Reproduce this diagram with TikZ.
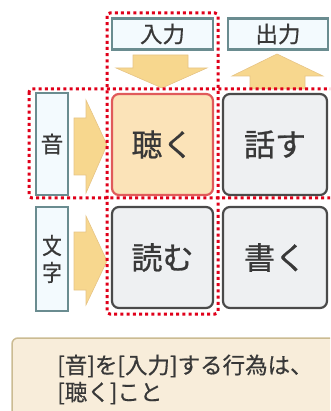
\documentclass[tikz,border=0pt]{standalone}
\usepackage{fontspec}
\setmainfont{Noto Sans CJK JP}
\newfontfamily\medfont{Noto Sans CJK JP}[FakeBold=0.9]
\newfontfamily\semifont{Noto Sans CJK JP}[FakeBold=0.5]
\definecolor{txt}{HTML}{383838}
\definecolor{hlfill}{HTML}{FBE3B8}
\definecolor{hldraw}{HTML}{E05A5A}
\definecolor{gfill}{HTML}{EEF0F2}
\definecolor{gdraw}{HTML}{4A4A4A}
\definecolor{lfill}{HTML}{F3FAFE}
\definecolor{ldraw}{HTML}{6A8C90}
\definecolor{afill}{HTML}{F7D78E}
\definecolor{adraw}{HTML}{E6C486}
\definecolor{nfill}{HTML}{F8EDDA}
\definecolor{ndraw}{HTML}{CBBB92}
\definecolor{dotred}{HTML}{E0001A}
\tikzset{
  cell/.style={draw=gdraw, fill=gfill, line width=2.2pt, rounded corners=7pt,
    minimum width=101pt, minimum height=101pt, inner sep=0pt, text=txt,
    font=\medfont\fontsize{31}{35}\selectfont},
  hlcell/.style={cell, draw=hldraw, fill=hlfill, font=\semifont\fontsize{31}{35}\selectfont},
  lab/.style={draw=ldraw, fill=lfill, line width=2.2pt, inner sep=0pt, text=txt,
    font=\semifont\fontsize{22.5}{26}\selectfont},
  arr/.style={fill=afill, draw=adraw, line width=0.6pt},
  dotbox/.style={draw=dotred, line width=3pt, dash pattern=on 3pt off 3.2pt, rounded corners=3pt},
}
\begin{document}
\begin{tikzpicture}[x=1pt,y=-1pt]
\useasboundingbox (0,0) rectangle (330,411);
\clip (0,0) rectangle (330,411);
% note box
\node[draw=ndraw, fill=nfill, line width=1.5pt, rounded corners=6pt, minimum width=330pt, minimum height=90pt, inner sep=0pt] (note) at (177,383) {};
\node[anchor=west, align=left, text=txt, font=\semifont\fontsize{22.5}{27}\selectfont, inner sep=0pt] (notetext) at (57,379.5) {[音]を[入力]する行為は、\\{}[聴く]こと};
% column labels
\node[lab, minimum width=101pt, minimum height=31pt] (in) at (162.5,34) {入力};
\node[lab, minimum width=100pt, minimum height=31pt] (out) at (278,34) {出力};
% row labels
\node[lab, minimum width=32pt, minimum height=102pt] (sound) at (52,144) {音};
\node[lab, minimum width=32pt, minimum height=104pt, align=center, font=\semifont\fontsize{23}{27}\selectfont] (chars) at (52,259) {\scalebox{0.85}[1]{文}\\\scalebox{0.85}[1]{字}};
% cells
\node[hlcell] (listen) at (162.5,144.5) {聴く};
\node[cell, minimum width=104pt] (speak) at (275,144.5) {話す};
\node[cell, minimum height=101pt] (read) at (162.5,257.5) {読む};
\node[cell, minimum width=104pt, minimum height=101pt] (write) at (275,257.5) {書く};
% arrows
\draw[arr] (133,55) -- (188,55) -- (188,68) -- (207,68) -- (162,88) -- (116,68) -- (133,68) -- cycle;
\draw[arr] (250,89) -- (250,76) -- (232,76) -- (277,54) -- (323,76) -- (305,76) -- (305,89) -- cycle;
\draw[arr] (74,118) -- (86,118) -- (86,100) -- (107,145) -- (86,193) -- (86,175) -- (74,175) -- cycle;
\draw[arr] (74,232) -- (86,232) -- (86,216) -- (107,261) -- (86,305) -- (86,290) -- (74,290) -- cycle;
% dotted highlights
\draw[dotbox] (107,13) rectangle (218,314);
\draw[dotbox] (29,89) rectangle (336,198);
\end{tikzpicture}
\end{document}
